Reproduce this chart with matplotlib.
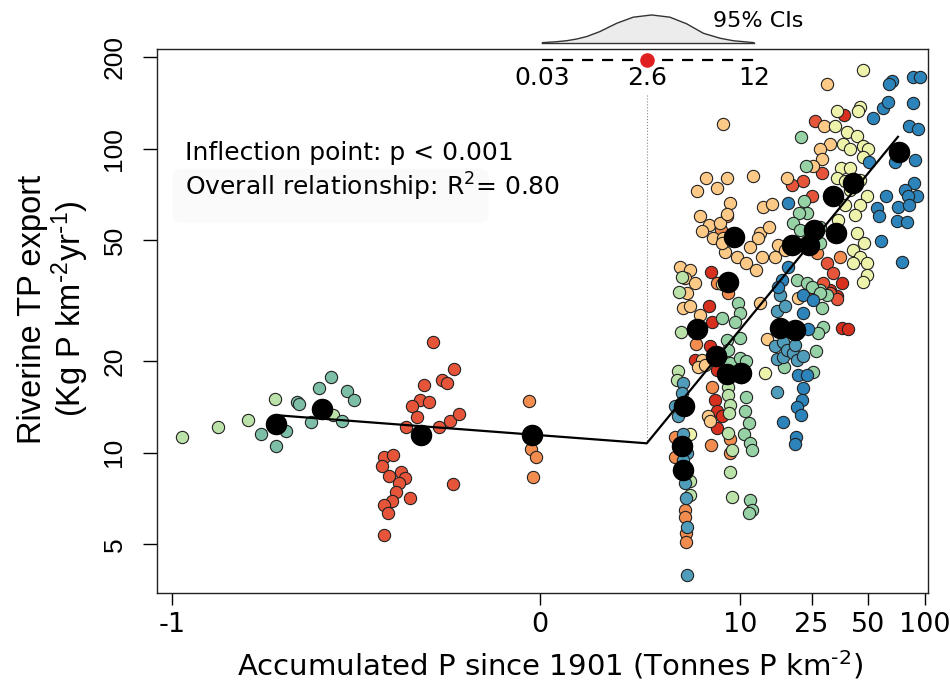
import numpy as np
import matplotlib.pyplot as plt
from matplotlib.patches import FancyBboxPatch
from matplotlib.ticker import NullLocator
from matplotlib.transforms import blended_transform_factory

plt.rcParams['font.family'] = 'DejaVu Sans'
plt.rcParams['mathtext.default'] = 'regular'

# ---- data (Accumulated P [t P km-2], riverine TP export [kg P km-2 yr-1]) ----
red_x = [37.3, 6.77, 34.1, 31.4, 36.3, 6.62, 6.84, 36.3, 39.3, 5.41, 6.68, 7.32, 7.16, 7.32, 7.84, 7.32]
red_y = [128.7, 39.2, 32.7, 34.4, 36.2, 30.4, 27.0, 25.8, 25.6, 20.2, 22.4, 18.75, 14.9, 13.7, 13.2, 12.1]

ored_x = [-0.290, -0.233, -0.314, -0.267, -0.254, -0.326, -0.301, -0.349, -0.335, -0.364, -0.274,
          -0.245, -0.220, -0.423, -0.399, -0.429, -0.379, -0.411, -0.367, -0.384, -0.390, -0.353,
          -0.403, -0.424, -0.414, -0.237, -0.424,
          26.1, 28.3, 22.3, 19.5, 25.0, 30.1, 32.7, 25.0, 31.4, 28.7, 34.1]
ored_y = [23.1, 18.9, 16.7, 17.3, 16.96, 14.9, 14.7, 14.3, 13.1, 12.2, 12.15,
          12.7, 13.4, 9.72, 9.83, 9.08, 8.68, 8.42, 8.26, 7.95, 7.43, 7.10,
          6.92, 6.75, 6.36, 7.91, 5.37,
          123.6, 83.4, 78.1, 76.2, 69.7, 42.1, 39.0, 33.9, 33.5, 36.2, 32.0]

orange_x = [8.39, 7.76, 26.6, 35.5, 7.32, 8.56, 5.49, 6.84, 4.05, 4.05, 6.74, 8.76, 8.76,
            4.69, 4.69, 4.76, 4.76, -0.029, -0.024, -0.012, -0.020]
orange_y = [59.9, 54.2, 45.4, 44.2, 36.2, 33.5, 22.8, 16.5, 11.3, 9.72, 10.6, 11.1, 9.98,
            6.49, 6.17, 5.44, 5.11, 14.8, 10.3, 9.68, 8.36]

lorange_x = [30.1, 7.95, 29.1, 31.4, 27.7, 28.3, 25.5, 6.32, 8.45, 7.32, 5.6, 11.9, 18.3, 8.76,
             5.81, 6.62, 7.66, 8.45, 13.45, 15.1, 5.95, 6.99, 7.95, 8.19, 7.84, 13.0, 14.5, 12.7,
             11.4, 13.3, 16.4, 15.7, 17.9, 9.6, 10.9, 12.4, 4.36, 5.04, 4.69, 5.41, 4.81, 4.58,
             5.04, 5.81, 5.95, 5.68, 6.23, 6.53, 6.68, 14.3, 13.0, 21.1]
lorange_y = [163, 120.8, 119, 103.6, 99.8, 92.5, 87.9, 80.4, 80.1, 74.3, 72.4, 81.5, 80.1, 66.3,
             60.3, 56.2, 57.0, 61.0, 64.6, 65.9, 53.5, 50.9, 50.9, 45.9, 49.0, 53.0, 55.5, 50.9,
             47.7, 44.2, 48.3, 44.2, 46.5, 44.2, 42.1, 40.0, 41.0, 40.0, 37.6, 36.2, 33.5, 29.9,
             30.3, 28.4, 20.2, 19.2, 19.5, 13.2, 12.7, 23.7, 31.1, 32.3]

pale_x = [46.9, 34.1, 45.4, 44.5, 33.4, 38.6, 43.6, 36.7, 40.2, 46.9, 50.3, 47.3, 36.0, 40.2,
          34.1, 37.8, 45.4, 49.3, 45.4, 43.6, 47.7, 41.8, 45.4, 41.8, 49.3, 49.3, 47.3, 13.9,
          5.04, 7.84, 40.2, 42.7, 37.8, 34.6]
pale_y = [182, 133, 137.7, 132.7, 119, 114, 110.4, 103.8, 99.8, 101.8, 99.8, 94.3, 86.4, 86.4,
          80.1, 78.1, 79.1, 69.7, 65.4, 52.8, 49.0, 46.5, 44.2, 42.1, 42.1, 38.5, 36.6, 18.3,
          11.5, 36.0, 73.3, 60.7, 65.5, 58.4]

lgreen_x = [-0.974, -0.874, -0.793, -0.720, -0.562, 4.47, 4.32, 4.42, 4.25, 4.15, 5.04, 5.04,
            8.56, 8.56, 8.76, 8.6, 8.56, 8.96, 8.76, 8.96]
lgreen_y = [11.3, 12.2, 12.8, 15.0, 13.3, 38.0, 33.9, 24.9, 18.65, 17.4, 8.05, 7.27,
            16.5, 15.5, 14.4, 13.5, 11.6, 10.2, 8.68, 7.18]

green_x = [21.9, 23.2, 22.7, 23.5, 21.4, 19.9, 21.6, 27.7, 27.7, 20.7, 23.5, 27.7, 30.1, 25.0,
           28.3, 27.7, 28.7, 27.2, 26.4, 25.5, 7.84, 9.8, 10.0, 9.4, 8.39, 10.0, 8.56, 7.84,
           8.76, 10.0, 10.9, 10.2, 10.9, 10.7, 11.2, 10.5, 11.4, 11.7, 11.4, 11.7, 11.2, 17.7]
green_y = [109.3, 87.9, 67.3, 61.4, 61.4, 57.0, 54.2, 55.5, 49.0, 37.1, 36.2, 34.4, 33.1, 35.2,
           29.9, 33.5, 26.0, 24.8, 21.7, 18.5, 27.7, 31.1, 28.8, 27.0, 23.5, 23.8, 21.8, 20.0,
           19.7, 20.5, 20.0, 17.8, 15.3, 13.7, 12.5, 11.5, 10.8, 10.2, 7.0, 6.49, 6.33, 19.1]

teal_x = [-0.758, -0.717, -0.690, -0.660, -0.655, -0.623, -0.600, -0.568, -0.539, -0.525, -0.505]
teal_y = [11.5, 10.54, 11.8, 14.75, 14.5, 12.6, 16.4, 17.7, 12.7, 16.0, 14.9]

bteal_x = [16.8, 16.1, 17.9, 15.7, 17.5, 16.1, 17.4, 18.3, 19.9, 20.7, 22.5, 20.3, 16.1, 4.58,
           4.47, 4.05, 4.25, 4.58, 4.81, 4.53, 4.69, 4.76, 4.81, 4.81]
bteal_y = [33.1, 29.2, 30.3, 22.4, 23.2, 20.3, 20.6, 21.8, 21.3, 20.2, 20.8, 22.7, 15.8, 16.96,
           15.7, 14.3, 13.2, 11.5, 9.98, 9.48, 7.95, 7.10, 5.72, 3.97]

blue_x = [66.9, 65.0, 86.9, 94.3, 53.4, 60.4, 64.2, 86.3, 82.8, 92.4, 50.9, 69.6, 88.8, 62.2,
          87.7, 78.6, 90.6, 81.8, 72.5, 82.8, 55.7, 57.5, 71.1, 80.3, 18.6, 58.5, 75.5, 18.6,
          17.2, 16.4, 22.5, 22.5, 25.5, 24.0, 22.5, 22.1, 20.7, 21.9, 17.5, 20.5, 20.3, 21.1, 23.5]
blue_y = [166.5, 163.3, 172.2, 172, 126.2, 136.1, 142.4, 141.3, 119, 116.4, 90.2, 90.2, 92, 70.2,
          77.1, 73.3, 69.7, 69.7, 64.6, 65.4, 63.8, 60.2, 58.1, 57.4, 66.3, 49.8, 42.4, 41.0,
          37.1, 35.2, 33.1, 28.8, 31.9, 25.5, 16.3, 14.9, 14.2, 13.3, 12.6, 11.3, 10.7, 18.1, 18.1]

# group means
mean_x = [-0.717, -0.592, -0.324, -0.023, 73.3, 41.5, 32.5, 9.24, 25.8, 33.8, 19.5, 24.3,
          8.5, 5.6, 7.26, 8.45, 10.2, 16.8, 20.3, 4.64, 4.51, 4.58]
mean_y = [12.43, 13.93, 11.46, 11.46, 97.5, 77.4, 69.7, 51.4, 54.2, 53.0, 48.3, 48.3,
          36.5, 25.5, 20.8, 18.15, 18.3, 25.8, 25.3, 14.28, 10.54, 8.75]

# segmented fit
fit_x = [-0.717, 2.6, 72.2]
fit_y = [13.3, 10.75, 109.5]

# breakpoint and its 95% CI, bootstrap density (relative)
bp_est, bp_lo, bp_hi = 2.6, 0.03, 12
dens_x = [0.03, 0.2, 0.377, 0.55, 0.75, 1.05, 1.51, 2.06, 2.82, 3.75, 4.81, 6.09, 7.66, 9.16, 12]
dens_h = [0.0, 0.03, 0.07, 0.13, 0.22, 0.40, 0.70, 0.92, 1.0, 0.92, 0.68, 0.34, 0.16, 0.07, 0.0]

# ---- x scale: log10(1+x) for positive, linear for negative ----
NEG = 1.9167


def fwd(x):
    x = np.asarray(x, dtype=float)
    return np.where(x >= 0, np.log10(1 + np.abs(x)), x * NEG)


def inv(t):
    t = np.asarray(t, dtype=float)
    return np.where(t >= 0, 10 ** np.clip(t, None, 10) - 1, t / NEG)


fig = plt.figure(figsize=(9.5, 6.82), dpi=100)
ax = fig.add_axes([0.1653, 0.1305, 0.8115, 0.7977])
ax.set_xscale('function', functions=(fwd, inv))
ax.set_yscale('log')
ax.set_xlim(-1.0407, 103.9)
ax.set_ylim(3.46, 213)

groups = [
    (red_x, red_y, '#d7301f'),
    (ored_x, ored_y, '#e6553a'),
    (orange_x, orange_y, '#f38d4f'),
    (lorange_x, lorange_y, '#fdc986'),
    (pale_x, pale_y, '#eef3ac'),
    (lgreen_x, lgreen_y, '#bbe2a8'),
    (green_x, green_y, '#96d2a6'),
    (teal_x, teal_y, '#7dbfa6'),
    (bteal_x, bteal_y, '#4f9dba'),
    (blue_x, blue_y, '#2c84bb'),
]
for gx, gy, col in groups:
    ax.scatter(gx, gy, s=78, c=col, edgecolors='#222222', linewidths=0.8, zorder=3)

ax.plot(fit_x, fit_y, color='black', lw=1.6, zorder=4)
ax.scatter(mean_x, mean_y, s=210, c='black', zorder=5)

# breakpoint marker
ax.plot([bp_est, bp_est], [150, fit_y[1]], color='#888888', lw=0.8, ls=':', zorder=2)
ax.plot([bp_lo, bp_hi], [196, 196], color='black', lw=1.6, ls=(0, (5, 4)), zorder=4)
ax.scatter([bp_est], [196], s=90, c='#e02020', zorder=6)
for v, lab in [(bp_lo, '0.03'), (bp_est, '2.6'), (bp_hi, '12')]:
    ax.text(v, 171, lab, ha='center', va='center', fontsize=18)

trans = blended_transform_factory(ax.transData, ax.transAxes)
base = 1.0116
top = [base + 0.0509 * h for h in dens_h]
ax.fill_between(dens_x, base, top, transform=trans, facecolor='#ececec',
                edgecolor='none', clip_on=False)
ax.plot(dens_x, top, transform=trans, color='#333333', lw=1.0, clip_on=False)
ax.plot([bp_lo, bp_hi], [base, base], transform=trans, color='#333333', lw=1.0, clip_on=False)
ax.text(6.96, 1.0515, '95% CIs', transform=trans, ha='left', va='center', fontsize=16)

# annotations
ax.add_patch(FancyBboxPatch((0.02, 0.68), 0.41, 0.10, boxstyle='round,pad=0,rounding_size=0.015',
                            transform=ax.transAxes, fc='#fafafa', ec='none', zorder=0))
ax.text(0.0363, 0.809, 'Inflection point: p < 0.001', transform=ax.transAxes,
        ha='left', va='center', fontsize=18)
ax.text(0.0363, 0.746, 'Overall relationship: R$^{2}$= 0.80', transform=ax.transAxes,
        ha='left', va='center', fontsize=18)

# axes styling
for sp in ax.spines.values():
    sp.set_linewidth(1.0)
    sp.set_color('#222222')
ax.set_xticks([-1, 0, 10, 25, 50, 100])
ax.set_xticklabels(['-1', '0', '10', '25', '50', '100'])
ax.xaxis.set_minor_locator(NullLocator())
ax.tick_params(axis='x', direction='out', length=8.6, width=1, labelsize=19.5, pad=5)
ax.set_yticks([5, 10, 20, 50, 100, 200])
ax.set_yticklabels(['5', '10', '20', '50', '100', '200'])
ax.yaxis.set_minor_locator(NullLocator())
ax.tick_params(axis='y', direction='out', length=10, width=1, labelsize=19, pad=12,
               labelrotation=90)
for lab in ax.get_yticklabels():
    lab.set_va('center')
    lab.set_family('Liberation Sans')

fig.text(550 / 950, 1 - 665 / 682, r'Accumulated P since 1901 (Tonnes P km$^{\text{-}2}$)',
         ha='center', va='center', fontsize=21)
fig.text(54 / 950, 1 - 309 / 682, 'Riverine TP export\n' + r'(Kg P km$^{\text{-}2}$yr$^{\text{-}1}$)',
         ha='center', va='center', rotation=90, fontsize=23.5, family='Liberation Sans',
         multialignment='center', linespacing=1.05)

fig.savefig('out.png', dpi=100)
